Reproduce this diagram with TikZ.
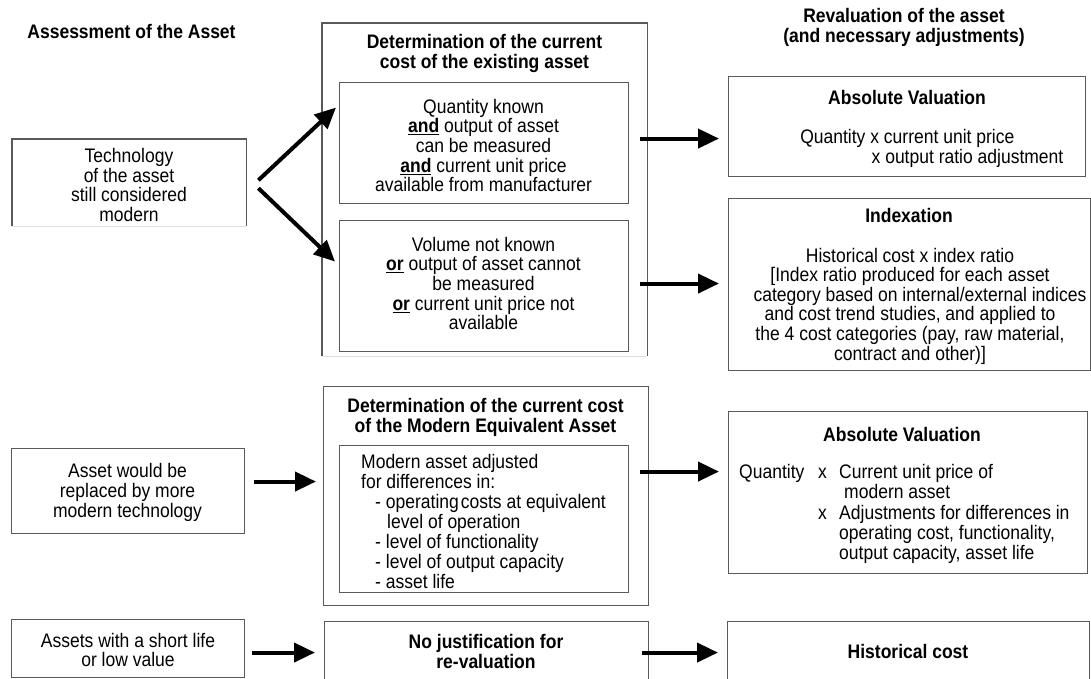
\documentclass[tikz,border=0pt]{standalone}
\usepackage{fontspec}
\setmainfont{Liberation Sans}[FakeStretch=0.893]
\usetikzlibrary{arrows.meta,calc}
\newcommand{\ulbold}[1]{\underline{\textbf{#1}}}
\tikzset{
  box/.style={draw=black!65, line width=1.1pt, inner sep=0pt, anchor=north west},
  nobox/.style={draw=none, inner sep=0pt, anchor=north west},
  edge/.style={draw=black!65, line width=1.1pt},
  faint/.style={draw=black!12, line width=1.1pt},
  txt/.style={inner sep=0pt, align=center, font=\fontsize{19.6}{19.6}\selectfont},
  btxt/.style={inner sep=0pt, align=center, font=\fontsize{19.6}{20}\selectfont\bfseries},
  arr/.style={line width=4pt, -{Triangle[length=21pt,width=19pt]}},
}
\begin{document}
\begin{tikzpicture}[x=1pt,y=-1pt]
\useasboundingbox (0,0) rectangle (1091,678);
\fill[white] (0,0) rectangle (1091,678);
\clip (0,0) rectangle (1091,678);

% ---------- boxes ----------
\node[nobox, minimum width=234pt, minimum height=87pt] (tech) at (12,139) {};
\draw[edge] (tech.south west) -- (tech.north west) -- (tech.north east) -- (tech.south east);
\draw[faint] (tech.south west) -- (tech.south east);

\node[nobox, minimum width=325pt, minimum height=333pt] (out1) at (322,23) {};
\draw[edge] (out1.south west) -- (out1.north west) -- (out1.north east) -- (out1.south east);
\draw[faint] (out1.south west) -- (out1.south east);

\node[box, minimum width=289pt, minimum height=121pt] (in1) at (339,82) {};
\node[box, minimum width=289pt, minimum height=131pt] (in2) at (339,220) {};

\node[box, minimum width=357pt, minimum height=100pt] (av1) at (728,76) {};
\node[box, minimum width=362pt, minimum height=172pt] (idx) at (728,198) {};

\node[box, minimum width=233pt, minimum height=85pt] (lb2) at (11,448) {};
\node[box, minimum width=325pt, minimum height=219pt] (out2) at (323,386) {};
\node[box, minimum width=289pt, minimum height=147pt] (in3) at (339,445) {};
\node[box, minimum width=359pt, minimum height=162pt] (av2) at (728,411) {};

\node[box, minimum width=233pt, minimum height=58pt] (lb3) at (11,619) {};
\node[box, minimum width=324pt, minimum height=61pt] (nojust) at (324,621) {};
\node[box, minimum width=362pt, minimum height=61pt] (hist) at (727,621) {};

% ---------- texts ----------
\node[btxt] (tassess) at (131.5,31) {Assessment of the Asset};
\node[btxt] (treval) at (904,27) {Revaluation of the asset\\(and necessary adjustments)};
\node[btxt] (tdet1) at (484.5,53) {Determination of the current\\cost of the existing asset};
\node[txt] (tin1) at (483.5,145.5) {Quantity known\\\ulbold{and} output of asset\\can be measured\\\ulbold{and} current unit price\\available from manufacturer};
\node[txt] (tin2) at (483.5,283.5) {Volume not known\\\ulbold{or} output of asset cannot\\be measured\\\ulbold{or} current unit price not\\available};
\node[txt] (ttech) at (129,185) {Technology\\of the asset\\still considered\\modern};

\node[btxt] (tav1) at (907,97) {Absolute Valuation};
\node[txt] (tav1a) at (907.3,138) {Quantity x current unit price};
\node[txt] (tav1b) at (967.5,158) {x output ratio adjustment};

\node[btxt] (tidx) at (909,215) {Indexation};
\node[txt] (tidxb) at (910,306) {Historical cost x index ratio\\{[}Index ratio produced for each asset\\\hspace*{20pt}category based on internal/external indices\\and cost trend studies, and applied to\\the 4 cost categories (pay, raw material,\\contract and other){]}};

\node[btxt] (tdet2) at (485.5,417) {Determination of the current cost\\of the Modern Equivalent Asset};
\node[txt, align=left, anchor=west, font=\fontsize{19.6}{20}\selectfont] (tin3) at (361,521) {Modern asset adjusted\\for differences in:\\\hspace*{14pt}- operating\hspace{2pt}costs at equivalent\\\hspace*{26pt}level of operation\\\hspace*{14pt}- level of functionality\\\hspace*{14pt}- level of output capacity\\\hspace*{14pt}- asset life};

\node[btxt] (tav2) at (902,434) {Absolute Valuation};
\node[txt, anchor=west, font=\fontsize{19.6}{20}\selectfont] (tav2b) at (739,515) {\begin{tabular}{@{}l@{\hspace{13.8pt}}l@{\hspace{12.3pt}}l@{}}
Quantity & x & Current unit price of\\
 & & \hspace*{5pt}modern asset\\
 & x & Adjustments for differences in\\
 & & operating cost, functionality,\\
 & & output capacity, asset life
\end{tabular}};

\node[txt] (tlb2) at (127.5,492.5) {Asset would be\\replaced by more\\modern technology};
\node[txt] (tlb3) at (128,650) {Assets with a short life\\or low value};
\node[btxt] (tnj) at (486,651) {No justification for\\re-valuation};
\node[btxt] (thist) at (908,651) {Historical cost};

% ---------- arrows ----------
\draw[arr] ($(tech.east)+(12,-2.5)$) -- ($(in1.west)+(-3,-35.5)$);
\draw[arr] ($(tech.east)+(12,5.5)$) -- ($(in2.west)+(-4,-24.5)$);

\coordinate (h1) at ($(in1.east)+(11,-4.5)$);
\draw[arr, shorten >=9pt] (h1) -- (h1 -| av1.west);
\coordinate (h2) at ($(in2.east)+(11,-2.5)$);
\draw[arr, shorten >=9pt] (h2) -- (h2 -| idx.west);
\coordinate (h3) at ($(lb2.east)+(9,-9.5)$);
\draw[arr, shorten >=7pt] (h3) -- (h3 -| out2.west);
\coordinate (h4) at ($(in3.east)+(11,-47.5)$);
\draw[arr, shorten >=9pt] (h4) -- (h4 -| av2.west);
\coordinate (h5) at ($(lb3.east)+(7,4)$);
\draw[arr, shorten >=9pt] (h5) -- (h5 -| nojust.west);
\coordinate (h6) at ($(nojust.east)+(-7,0.5)$);
\draw[arr, shorten >=9pt] (h6) -- (h6 -| hist.west);
\end{tikzpicture}
\end{document}
